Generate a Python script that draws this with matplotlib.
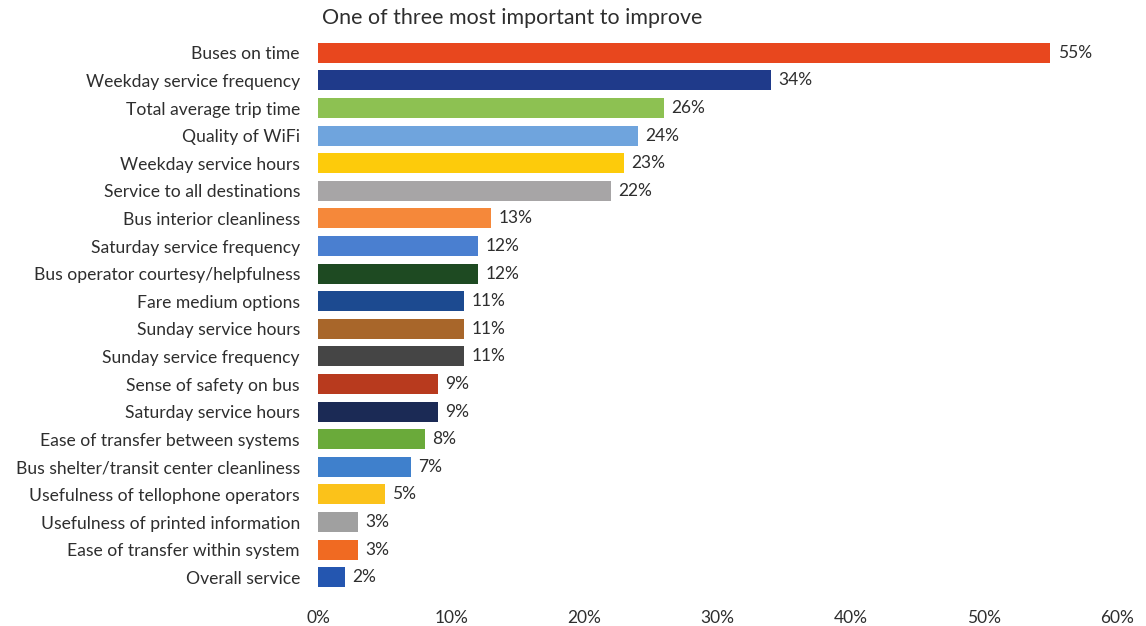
import numpy as np
import matplotlib.pyplot as plt

plt.rcParams['font.family'] = ['Lato', 'DejaVu Sans']

items = ["Buses on time", "Weekday service frequency", "Total average trip time",
         "Quality of WiFi", "Weekday service hours", "Service to all destinations",
         "Bus interior cleanliness", "Saturday service frequency",
         "Bus operator courtesy/helpfulness", "Fare medium options",
         "Sunday service hours", "Sunday service frequency", "Sense of safety on bus",
         "Saturday service hours", "Ease of transfer between systems",
         "Bus shelter/transit center cleanliness", "Usefulness of tellophone operators",
         "Usefulness of printed information", "Ease of transfer within system",
         "Overall service"]
pct = [55, 34, 26, 24, 23, 22, 13, 12, 12, 11, 11, 11, 9, 9, 8, 7, 5, 3, 3, 2]
colors = ["#e8471e", "#1f3a8a", "#8dc152", "#6fa4dd", "#fdcb0b", "#a7a5a6",
          "#f5883a", "#4a7fd0", "#1e4a22", "#1c4a90", "#a8662a", "#454545",
          "#b83a1e", "#1b2a55", "#6aaa3a", "#3f80cc", "#fbc21a", "#a0a0a0",
          "#f06a22", "#2456b0"]
xticks = [0, 10, 20, 30, 40, 50, 60]

txt = "#2e2e2e"
fig = plt.figure(figsize=(11.46, 6.26), dpi=100)
ax = fig.add_axes([0.2775, 0.0559, 0.6972, 0.8818])

y = np.arange(len(items))
ax.barh(y, pct, height=0.73, color=colors)
for yi, v in zip(y, pct):
    ax.text(v + 0.55, yi, f"{v}%", va="center", ha="left", fontsize=12.5, color=txt)

ax.set_ylim(len(items) - 0.5, -0.5)
ax.set_xlim(0, 60)
ax.set_yticks(y)
ax.set_yticklabels(items, fontsize=12.6, color=txt)
ax.set_xticks(xticks)
ax.set_xticklabels([f"{t}%" for t in xticks], fontsize=12.5, color=txt)
ax.tick_params(axis="y", length=0, pad=13)
ax.tick_params(axis="x", length=0, pad=14)
for s in ax.spines.values():
    s.set_visible(False)

fig.text(322 / 1146, 1 - 18 / 626, "One of three most important to improve",
         fontsize=15.4, color=txt, ha="left", va="center")

fig.savefig("out.png", dpi=100)
